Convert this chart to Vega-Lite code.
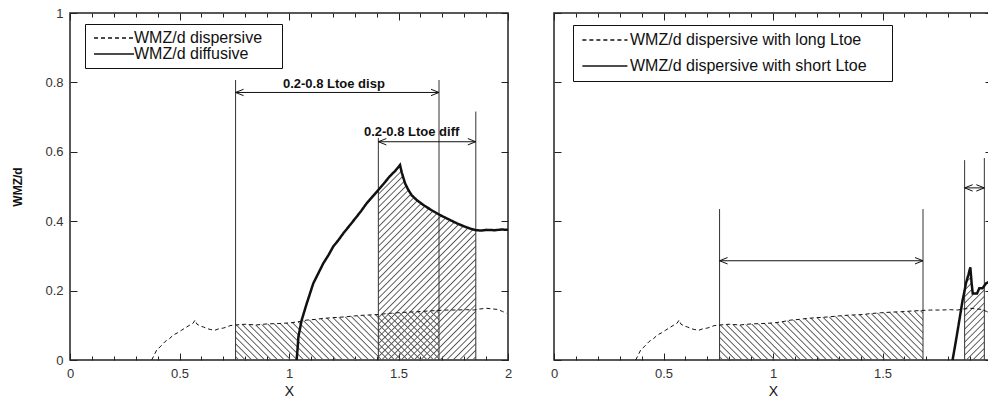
{
"$schema":"https://vega.github.io/schema/vega-lite/v6.json",
"background":"white",
"padding":{"left":11,"top":6,"right":0,"bottom":0},
"datasets":{
"disp":[{"x":0.373,"y":0},{"x":0.396,"y":0.029},{"x":0.415,"y":0.04},{"x":0.434,"y":0.053},{"x":0.455,"y":0.062},{"x":0.472,"y":0.072},{"x":0.49,"y":0.078},{"x":0.51,"y":0.086},{"x":0.53,"y":0.094},{"x":0.548,"y":0.101},{"x":0.562,"y":0.106},{"x":0.571,"y":0.115},{"x":0.58,"y":0.103},{"x":0.595,"y":0.098},{"x":0.61,"y":0.095},{"x":0.624,"y":0.091},{"x":0.64,"y":0.088},{"x":0.662,"y":0.086},{"x":0.68,"y":0.09},{"x":0.7,"y":0.092},{"x":0.715,"y":0.095},{"x":0.731,"y":0.099},{"x":0.756,"y":0.101},{"x":0.8,"y":0.103},{"x":0.85,"y":0.101},{"x":0.9,"y":0.104},{"x":0.95,"y":0.105},{"x":1.005,"y":0.107},{"x":1.04,"y":0.11},{"x":1.081,"y":0.115},{"x":1.12,"y":0.117},{"x":1.157,"y":0.12},{"x":1.2,"y":0.122},{"x":1.25,"y":0.124},{"x":1.3,"y":0.127},{"x":1.339,"y":0.129},{"x":1.408,"y":0.131},{"x":1.45,"y":0.134},{"x":1.492,"y":0.136},{"x":1.54,"y":0.138},{"x":1.583,"y":0.139},{"x":1.63,"y":0.141},{"x":1.685,"y":0.143},{"x":1.72,"y":0.144},{"x":1.766,"y":0.144},{"x":1.81,"y":0.145},{"x":1.842,"y":0.144},{"x":1.87,"y":0.147},{"x":1.903,"y":0.149},{"x":1.93,"y":0.147},{"x":1.95,"y":0.146},{"x":1.975,"y":0.14},{"x":1.994,"y":0.134}],
"diff":[{"x":1.035,"y":0},{"x":1.04,"y":0.04},{"x":1.043,"y":0.067},{"x":1.05,"y":0.09},{"x":1.058,"y":0.115},{"x":1.07,"y":0.14},{"x":1.081,"y":0.163},{"x":1.095,"y":0.19},{"x":1.111,"y":0.221},{"x":1.13,"y":0.245},{"x":1.157,"y":0.279},{"x":1.18,"y":0.302},{"x":1.202,"y":0.327},{"x":1.225,"y":0.345},{"x":1.248,"y":0.365},{"x":1.28,"y":0.39},{"x":1.309,"y":0.413},{"x":1.33,"y":0.43},{"x":1.355,"y":0.452},{"x":1.38,"y":0.47},{"x":1.408,"y":0.49},{"x":1.435,"y":0.51},{"x":1.461,"y":0.53},{"x":1.485,"y":0.545},{"x":1.507,"y":0.562},{"x":1.515,"y":0.54},{"x":1.53,"y":0.509},{"x":1.545,"y":0.49},{"x":1.56,"y":0.475},{"x":1.585,"y":0.46},{"x":1.613,"y":0.447},{"x":1.65,"y":0.432},{"x":1.689,"y":0.418},{"x":1.73,"y":0.405},{"x":1.766,"y":0.394},{"x":1.8,"y":0.385},{"x":1.826,"y":0.379},{"x":1.853,"y":0.374},{"x":1.88,"y":0.373},{"x":1.903,"y":0.375},{"x":1.94,"y":0.374},{"x":1.97,"y":0.376},{"x":2.0,"y":0.375}],
"short":[{"x":1.82,"y":0},{"x":1.836,"y":0.058},{"x":1.851,"y":0.115},{"x":1.866,"y":0.173},{"x":1.875,"y":0.2},{"x":1.881,"y":0.221},{"x":1.892,"y":0.245},{"x":1.901,"y":0.267},{"x":1.907,"y":0.221},{"x":1.912,"y":0.192},{"x":1.932,"y":0.192},{"x":1.942,"y":0.207},{"x":1.957,"y":0.207},{"x":1.965,"y":0.214},{"x":1.973,"y":0.221},{"x":1.988,"y":0.226},{"x":2.0,"y":0.232}]
},
"spacing":35,
"resolve":{"scale":{"strokeDash":"independent"},"legend":{"strokeDash":"independent"}},
"hconcat":[
{
"width":438,"height":347,
"resolve":{"axis":{"x":"independent","y":"independent"}},
"layer":[
{"data":{"name":"disp"},"transform":[{"filter":{"field":"x","range":[0.756,1.685]}}],
"mark":{"type":"area","fill":{"gradient":"linear","x1":0,"y1":1,"x2":1.206,"y2":0.706,"stops":[
{"offset":0.0075,"color":"#5550"},{"offset":0.0125,"color":"#555"},{"offset":0.0175,"color":"#5550"},
{"offset":0.0325,"color":"#5550"},{"offset":0.0375,"color":"#555"},{"offset":0.0425,"color":"#5550"},
{"offset":0.0575,"color":"#5550"},{"offset":0.0625,"color":"#555"},{"offset":0.0675,"color":"#5550"},
{"offset":0.0825,"color":"#5550"},{"offset":0.0875,"color":"#555"},{"offset":0.0925,"color":"#5550"},
{"offset":0.1075,"color":"#5550"},{"offset":0.1125,"color":"#555"},{"offset":0.1175,"color":"#5550"},
{"offset":0.1325,"color":"#5550"},{"offset":0.1375,"color":"#555"},{"offset":0.1425,"color":"#5550"},
{"offset":0.1575,"color":"#5550"},{"offset":0.1625,"color":"#555"},{"offset":0.1675,"color":"#5550"},
{"offset":0.1825,"color":"#5550"},{"offset":0.1875,"color":"#555"},{"offset":0.1925,"color":"#5550"},
{"offset":0.2075,"color":"#5550"},{"offset":0.2125,"color":"#555"},{"offset":0.2175,"color":"#5550"},
{"offset":0.2325,"color":"#5550"},{"offset":0.2375,"color":"#555"},{"offset":0.2425,"color":"#5550"},
{"offset":0.2575,"color":"#5550"},{"offset":0.2625,"color":"#555"},{"offset":0.2675,"color":"#5550"},
{"offset":0.2825,"color":"#5550"},{"offset":0.2875,"color":"#555"},{"offset":0.2925,"color":"#5550"},
{"offset":0.3075,"color":"#5550"},{"offset":0.3125,"color":"#555"},{"offset":0.3175,"color":"#5550"},
{"offset":0.3325,"color":"#5550"},{"offset":0.3375,"color":"#555"},{"offset":0.3425,"color":"#5550"},
{"offset":0.3575,"color":"#5550"},{"offset":0.3625,"color":"#555"},{"offset":0.3675,"color":"#5550"},
{"offset":0.3825,"color":"#5550"},{"offset":0.3875,"color":"#555"},{"offset":0.3925,"color":"#5550"},
{"offset":0.4075,"color":"#5550"},{"offset":0.4125,"color":"#555"},{"offset":0.4175,"color":"#5550"},
{"offset":0.4325,"color":"#5550"},{"offset":0.4375,"color":"#555"},{"offset":0.4425,"color":"#5550"},
{"offset":0.4575,"color":"#5550"},{"offset":0.4625,"color":"#555"},{"offset":0.4675,"color":"#5550"},
{"offset":0.4825,"color":"#5550"},{"offset":0.4875,"color":"#555"},{"offset":0.4925,"color":"#5550"},
{"offset":0.5075,"color":"#5550"},{"offset":0.5125,"color":"#555"},{"offset":0.5175,"color":"#5550"},
{"offset":0.5325,"color":"#5550"},{"offset":0.5375,"color":"#555"},{"offset":0.5425,"color":"#5550"},
{"offset":0.5575,"color":"#5550"},{"offset":0.5625,"color":"#555"},{"offset":0.5675,"color":"#5550"},
{"offset":0.5825,"color":"#5550"},{"offset":0.5875,"color":"#555"},{"offset":0.5925,"color":"#5550"},
{"offset":0.6075,"color":"#5550"},{"offset":0.6125,"color":"#555"},{"offset":0.6175,"color":"#5550"},
{"offset":0.6325,"color":"#5550"},{"offset":0.6375,"color":"#555"},{"offset":0.6425,"color":"#5550"},
{"offset":0.6575,"color":"#5550"},{"offset":0.6625,"color":"#555"},{"offset":0.6675,"color":"#5550"},
{"offset":0.6825,"color":"#5550"},{"offset":0.6875,"color":"#555"},{"offset":0.6925,"color":"#5550"},
{"offset":0.7075,"color":"#5550"},{"offset":0.7125,"color":"#555"},{"offset":0.7175,"color":"#5550"},
{"offset":0.7325,"color":"#5550"},{"offset":0.7375,"color":"#555"},{"offset":0.7425,"color":"#5550"},
{"offset":0.7575,"color":"#5550"},{"offset":0.7625,"color":"#555"},{"offset":0.7675,"color":"#5550"},
{"offset":0.7825,"color":"#5550"},{"offset":0.7875,"color":"#555"},{"offset":0.7925,"color":"#5550"},
{"offset":0.8075,"color":"#5550"},{"offset":0.8125,"color":"#555"},{"offset":0.8175,"color":"#5550"},
{"offset":0.8325,"color":"#5550"},{"offset":0.8375,"color":"#555"},{"offset":0.8425,"color":"#5550"},
{"offset":0.8575,"color":"#5550"},{"offset":0.8625,"color":"#555"},{"offset":0.8675,"color":"#5550"},
{"offset":0.8825,"color":"#5550"},{"offset":0.8875,"color":"#555"},{"offset":0.8925,"color":"#5550"},
{"offset":0.9075,"color":"#5550"},{"offset":0.9125,"color":"#555"},{"offset":0.9175,"color":"#5550"},
{"offset":0.9325,"color":"#5550"},{"offset":0.9375,"color":"#555"},{"offset":0.9425,"color":"#5550"},
{"offset":0.9575,"color":"#5550"},{"offset":0.9625,"color":"#555"},{"offset":0.9675,"color":"#5550"},
{"offset":0.9825,"color":"#5550"},{"offset":0.9875,"color":"#555"},{"offset":0.9925,"color":"#5550"}]}},
"encoding":{
"x":{"field":"x","type":"quantitative","scale":{"domain":[0,2],"nice":false,"zero":false},"axis":{"orient":"bottom","values":[0,0.1,0.2,0.3,0.4,0.5,0.6,0.7,0.8,0.9,1,1.1,1.2,1.3,1.4,1.5,1.6,1.7,1.8,1.9,2],"labelExpr":"abs(datum.value*2-round(datum.value*2))<0.001 ? ''+datum.value : ''","tickSize":{"condition":{"test":"abs(datum.value*2-round(datum.value*2))<0.001","value":-7},"value":-4},"labelPadding":14,"title":"X","titleFontSize":14,"titleFontWeight":"normal","titlePadding":1}},
"y":{"field":"y","type":"quantitative","scale":{"domain":[0,1],"nice":false},"axis":{"orient":"left","values":[0,0.2,0.4,0.6,0.8,1],"labelExpr":"''+datum.value","tickSize":-7,"labelPadding":14,"title":"WMZ/d","titleFontSize":12,"titleFontWeight":"bold","titlePadding":20}}}},
{"data":{"name":"diff"},"transform":[{"filter":{"field":"x","range":[1.408,1.853]}}],
"mark":{"type":"area","fill":{"gradient":"linear","x1":0,"y1":0,"x2":0.667,"y2":1.333,"stops":[
{"offset":0.006,"color":"#5550"},{"offset":0.01,"color":"#555"},{"offset":0.014,"color":"#5550"},
{"offset":0.026,"color":"#5550"},{"offset":0.03,"color":"#555"},{"offset":0.034,"color":"#5550"},
{"offset":0.046,"color":"#5550"},{"offset":0.05,"color":"#555"},{"offset":0.054,"color":"#5550"},
{"offset":0.066,"color":"#5550"},{"offset":0.07,"color":"#555"},{"offset":0.074,"color":"#5550"},
{"offset":0.086,"color":"#5550"},{"offset":0.09,"color":"#555"},{"offset":0.094,"color":"#5550"},
{"offset":0.106,"color":"#5550"},{"offset":0.11,"color":"#555"},{"offset":0.114,"color":"#5550"},
{"offset":0.126,"color":"#5550"},{"offset":0.13,"color":"#555"},{"offset":0.134,"color":"#5550"},
{"offset":0.146,"color":"#5550"},{"offset":0.15,"color":"#555"},{"offset":0.154,"color":"#5550"},
{"offset":0.166,"color":"#5550"},{"offset":0.17,"color":"#555"},{"offset":0.174,"color":"#5550"},
{"offset":0.186,"color":"#5550"},{"offset":0.19,"color":"#555"},{"offset":0.194,"color":"#5550"},
{"offset":0.206,"color":"#5550"},{"offset":0.21,"color":"#555"},{"offset":0.214,"color":"#5550"},
{"offset":0.226,"color":"#5550"},{"offset":0.23,"color":"#555"},{"offset":0.234,"color":"#5550"},
{"offset":0.246,"color":"#5550"},{"offset":0.25,"color":"#555"},{"offset":0.254,"color":"#5550"},
{"offset":0.266,"color":"#5550"},{"offset":0.27,"color":"#555"},{"offset":0.274,"color":"#5550"},
{"offset":0.286,"color":"#5550"},{"offset":0.29,"color":"#555"},{"offset":0.294,"color":"#5550"},
{"offset":0.306,"color":"#5550"},{"offset":0.31,"color":"#555"},{"offset":0.314,"color":"#5550"},
{"offset":0.326,"color":"#5550"},{"offset":0.33,"color":"#555"},{"offset":0.334,"color":"#5550"},
{"offset":0.346,"color":"#5550"},{"offset":0.35,"color":"#555"},{"offset":0.354,"color":"#5550"},
{"offset":0.366,"color":"#5550"},{"offset":0.37,"color":"#555"},{"offset":0.374,"color":"#5550"},
{"offset":0.386,"color":"#5550"},{"offset":0.39,"color":"#555"},{"offset":0.394,"color":"#5550"},
{"offset":0.406,"color":"#5550"},{"offset":0.41,"color":"#555"},{"offset":0.414,"color":"#5550"},
{"offset":0.426,"color":"#5550"},{"offset":0.43,"color":"#555"},{"offset":0.434,"color":"#5550"},
{"offset":0.446,"color":"#5550"},{"offset":0.45,"color":"#555"},{"offset":0.454,"color":"#5550"},
{"offset":0.466,"color":"#5550"},{"offset":0.47,"color":"#555"},{"offset":0.474,"color":"#5550"},
{"offset":0.486,"color":"#5550"},{"offset":0.49,"color":"#555"},{"offset":0.494,"color":"#5550"},
{"offset":0.506,"color":"#5550"},{"offset":0.51,"color":"#555"},{"offset":0.514,"color":"#5550"},
{"offset":0.526,"color":"#5550"},{"offset":0.53,"color":"#555"},{"offset":0.534,"color":"#5550"},
{"offset":0.546,"color":"#5550"},{"offset":0.55,"color":"#555"},{"offset":0.554,"color":"#5550"},
{"offset":0.566,"color":"#5550"},{"offset":0.57,"color":"#555"},{"offset":0.574,"color":"#5550"},
{"offset":0.586,"color":"#5550"},{"offset":0.59,"color":"#555"},{"offset":0.594,"color":"#5550"},
{"offset":0.606,"color":"#5550"},{"offset":0.61,"color":"#555"},{"offset":0.614,"color":"#5550"},
{"offset":0.626,"color":"#5550"},{"offset":0.63,"color":"#555"},{"offset":0.634,"color":"#5550"},
{"offset":0.646,"color":"#5550"},{"offset":0.65,"color":"#555"},{"offset":0.654,"color":"#5550"},
{"offset":0.666,"color":"#5550"},{"offset":0.67,"color":"#555"},{"offset":0.674,"color":"#5550"},
{"offset":0.686,"color":"#5550"},{"offset":0.69,"color":"#555"},{"offset":0.694,"color":"#5550"},
{"offset":0.706,"color":"#5550"},{"offset":0.71,"color":"#555"},{"offset":0.714,"color":"#5550"},
{"offset":0.726,"color":"#5550"},{"offset":0.73,"color":"#555"},{"offset":0.734,"color":"#5550"},
{"offset":0.746,"color":"#5550"},{"offset":0.75,"color":"#555"},{"offset":0.754,"color":"#5550"},
{"offset":0.766,"color":"#5550"},{"offset":0.77,"color":"#555"},{"offset":0.774,"color":"#5550"},
{"offset":0.786,"color":"#5550"},{"offset":0.79,"color":"#555"},{"offset":0.794,"color":"#5550"},
{"offset":0.806,"color":"#5550"},{"offset":0.81,"color":"#555"},{"offset":0.814,"color":"#5550"},
{"offset":0.826,"color":"#5550"},{"offset":0.83,"color":"#555"},{"offset":0.834,"color":"#5550"},
{"offset":0.846,"color":"#5550"},{"offset":0.85,"color":"#555"},{"offset":0.854,"color":"#5550"},
{"offset":0.866,"color":"#5550"},{"offset":0.87,"color":"#555"},{"offset":0.874,"color":"#5550"},
{"offset":0.886,"color":"#5550"},{"offset":0.89,"color":"#555"},{"offset":0.894,"color":"#5550"},
{"offset":0.906,"color":"#5550"},{"offset":0.91,"color":"#555"},{"offset":0.914,"color":"#5550"}]}},
"encoding":{
"x":{"field":"x","type":"quantitative","scale":{"domain":[0,2],"nice":false,"zero":false},"axis":{"orient":"top","values":[0,0.1,0.2,0.3,0.4,0.5,0.6,0.7,0.8,0.9,1,1.1,1.2,1.3,1.4,1.5,1.6,1.7,1.8,1.9,2],"labels":false,"tickSize":{"condition":{"test":"abs(datum.value*2-round(datum.value*2))<0.001","value":-7},"value":-4},"title":null}},
"y":{"field":"y","type":"quantitative","scale":{"domain":[0,1],"nice":false},"axis":{"orient":"right","values":[0,0.2,0.4,0.6,0.8,1],"labels":false,"tickSize":-7,"title":null}}}},
{"data":{"values":[{"x":0.756,"top":0.807},{"x":1.685,"top":0.807},{"x":1.408,"top":0.64},{"x":1.853,"top":0.716}]},
"mark":{"type":"rule","color":"#333","strokeWidth":1},
"encoding":{"x":{"field":"x","type":"quantitative","axis":null},"y":{"field":"top","type":"quantitative","axis":null},"y2":{"datum":0}}},
{"data":{"values":[{"x0":0.756,"x1":1.685,"ay":0.771},{"x0":1.408,"x1":1.853,"ay":0.629}]},
"mark":{"type":"rule","color":"#111","strokeWidth":1},"encoding":{"x":{"field":"x0","type":"quantitative","axis":null},"x2":{"field":"x1"},"y":{"field":"ay","type":"quantitative","axis":null}}},
{"data":{"values":[{"x0":0.756,"x1":1.685,"ay":0.771},{"x0":1.408,"x1":1.853,"ay":0.629}]},
"mark":{"type":"point","shape":"M0,0L1,-0.4M0,0L1,0.4","size":256,"filled":false,"stroke":"#111","strokeWidth":1,"opacity":1},"encoding":{"x":{"field":"x0","type":"quantitative","axis":null},"y":{"field":"ay","type":"quantitative","axis":null}}},
{"data":{"values":[{"x0":0.756,"x1":1.685,"ay":0.771},{"x0":1.408,"x1":1.853,"ay":0.629}]},
"mark":{"type":"point","shape":"M0,0L-1,-0.4M0,0L-1,0.4","size":256,"filled":false,"stroke":"#111","strokeWidth":1,"opacity":1},"encoding":{"x":{"field":"x1","type":"quantitative","axis":null},"y":{"field":"ay","type":"quantitative","axis":null}}},
{"data":{"values":[{"lx":1.205,"ly":0.795,"label":"0.2-0.8 Ltoe disp"},{"lx":1.56,"ly":0.658,"label":"0.2-0.8 Ltoe diff"}]},
"mark":{"type":"text","font":"Liberation Sans","fontWeight":"bold","fontSize":13,"color":"#111","baseline":"middle"},
"encoding":{"x":{"field":"lx","type":"quantitative","axis":null},"y":{"field":"ly","type":"quantitative","axis":null},"text":{"field":"label"}}},
{"data":{"name":"disp"},"mark":{"type":"line","color":"#111","strokeWidth":1},
"encoding":{"x":{"field":"x","type":"quantitative","axis":null},"y":{"field":"y","type":"quantitative","axis":null},
"strokeDash":{"datum":"WMZ/d dispersive","type":"nominal","scale":{"domain":["WMZ/d dispersive","WMZ/d diffusive"],"range":[[4,3],[1,0]]},"legend":{"orient":"none","legendX":15,"legendY":11,"title":null,"padding":6,"rowPadding":0,"symbolSize":100,"labelOffset":27,"labelLimit":0,"labelExpr":"datum.label + '\u00a0\u00a0\u00a0\u200b'"}}}},
{"data":{"name":"diff"},"mark":{"type":"line","color":"#111","strokeWidth":2.5},
"encoding":{"x":{"field":"x","type":"quantitative","axis":null},"y":{"field":"y","type":"quantitative","axis":null},
"strokeDash":{"datum":"WMZ/d diffusive","type":"nominal"}}}
]
},
{
"width":438,"height":347,
"resolve":{"axis":{"x":"independent","y":"independent"}},
"layer":[
{"data":{"name":"disp"},"transform":[{"filter":{"field":"x","range":[0.756,1.685]}}],
"mark":{"type":"area","fill":{"gradient":"linear","x1":0,"y1":1,"x2":1.206,"y2":0.706,"stops":[
{"offset":0.0075,"color":"#5550"},{"offset":0.0125,"color":"#555"},{"offset":0.0175,"color":"#5550"},
{"offset":0.0325,"color":"#5550"},{"offset":0.0375,"color":"#555"},{"offset":0.0425,"color":"#5550"},
{"offset":0.0575,"color":"#5550"},{"offset":0.0625,"color":"#555"},{"offset":0.0675,"color":"#5550"},
{"offset":0.0825,"color":"#5550"},{"offset":0.0875,"color":"#555"},{"offset":0.0925,"color":"#5550"},
{"offset":0.1075,"color":"#5550"},{"offset":0.1125,"color":"#555"},{"offset":0.1175,"color":"#5550"},
{"offset":0.1325,"color":"#5550"},{"offset":0.1375,"color":"#555"},{"offset":0.1425,"color":"#5550"},
{"offset":0.1575,"color":"#5550"},{"offset":0.1625,"color":"#555"},{"offset":0.1675,"color":"#5550"},
{"offset":0.1825,"color":"#5550"},{"offset":0.1875,"color":"#555"},{"offset":0.1925,"color":"#5550"},
{"offset":0.2075,"color":"#5550"},{"offset":0.2125,"color":"#555"},{"offset":0.2175,"color":"#5550"},
{"offset":0.2325,"color":"#5550"},{"offset":0.2375,"color":"#555"},{"offset":0.2425,"color":"#5550"},
{"offset":0.2575,"color":"#5550"},{"offset":0.2625,"color":"#555"},{"offset":0.2675,"color":"#5550"},
{"offset":0.2825,"color":"#5550"},{"offset":0.2875,"color":"#555"},{"offset":0.2925,"color":"#5550"},
{"offset":0.3075,"color":"#5550"},{"offset":0.3125,"color":"#555"},{"offset":0.3175,"color":"#5550"},
{"offset":0.3325,"color":"#5550"},{"offset":0.3375,"color":"#555"},{"offset":0.3425,"color":"#5550"},
{"offset":0.3575,"color":"#5550"},{"offset":0.3625,"color":"#555"},{"offset":0.3675,"color":"#5550"},
{"offset":0.3825,"color":"#5550"},{"offset":0.3875,"color":"#555"},{"offset":0.3925,"color":"#5550"},
{"offset":0.4075,"color":"#5550"},{"offset":0.4125,"color":"#555"},{"offset":0.4175,"color":"#5550"},
{"offset":0.4325,"color":"#5550"},{"offset":0.4375,"color":"#555"},{"offset":0.4425,"color":"#5550"},
{"offset":0.4575,"color":"#5550"},{"offset":0.4625,"color":"#555"},{"offset":0.4675,"color":"#5550"},
{"offset":0.4825,"color":"#5550"},{"offset":0.4875,"color":"#555"},{"offset":0.4925,"color":"#5550"},
{"offset":0.5075,"color":"#5550"},{"offset":0.5125,"color":"#555"},{"offset":0.5175,"color":"#5550"},
{"offset":0.5325,"color":"#5550"},{"offset":0.5375,"color":"#555"},{"offset":0.5425,"color":"#5550"},
{"offset":0.5575,"color":"#5550"},{"offset":0.5625,"color":"#555"},{"offset":0.5675,"color":"#5550"},
{"offset":0.5825,"color":"#5550"},{"offset":0.5875,"color":"#555"},{"offset":0.5925,"color":"#5550"},
{"offset":0.6075,"color":"#5550"},{"offset":0.6125,"color":"#555"},{"offset":0.6175,"color":"#5550"},
{"offset":0.6325,"color":"#5550"},{"offset":0.6375,"color":"#555"},{"offset":0.6425,"color":"#5550"},
{"offset":0.6575,"color":"#5550"},{"offset":0.6625,"color":"#555"},{"offset":0.6675,"color":"#5550"},
{"offset":0.6825,"color":"#5550"},{"offset":0.6875,"color":"#555"},{"offset":0.6925,"color":"#5550"},
{"offset":0.7075,"color":"#5550"},{"offset":0.7125,"color":"#555"},{"offset":0.7175,"color":"#5550"},
{"offset":0.7325,"color":"#5550"},{"offset":0.7375,"color":"#555"},{"offset":0.7425,"color":"#5550"},
{"offset":0.7575,"color":"#5550"},{"offset":0.7625,"color":"#555"},{"offset":0.7675,"color":"#5550"},
{"offset":0.7825,"color":"#5550"},{"offset":0.7875,"color":"#555"},{"offset":0.7925,"color":"#5550"},
{"offset":0.8075,"color":"#5550"},{"offset":0.8125,"color":"#555"},{"offset":0.8175,"color":"#5550"},
{"offset":0.8325,"color":"#5550"},{"offset":0.8375,"color":"#555"},{"offset":0.8425,"color":"#5550"},
{"offset":0.8575,"color":"#5550"},{"offset":0.8625,"color":"#555"},{"offset":0.8675,"color":"#5550"},
{"offset":0.8825,"color":"#5550"},{"offset":0.8875,"color":"#555"},{"offset":0.8925,"color":"#5550"},
{"offset":0.9075,"color":"#5550"},{"offset":0.9125,"color":"#555"},{"offset":0.9175,"color":"#5550"},
{"offset":0.9325,"color":"#5550"},{"offset":0.9375,"color":"#555"},{"offset":0.9425,"color":"#5550"},
{"offset":0.9575,"color":"#5550"},{"offset":0.9625,"color":"#555"},{"offset":0.9675,"color":"#5550"},
{"offset":0.9825,"color":"#5550"},{"offset":0.9875,"color":"#555"},{"offset":0.9925,"color":"#5550"}]}},
"encoding":{
"x":{"field":"x","type":"quantitative","scale":{"domain":[0,2],"nice":false,"zero":false},"axis":{"orient":"bottom","values":[0,0.1,0.2,0.3,0.4,0.5,0.6,0.7,0.8,0.9,1,1.1,1.2,1.3,1.4,1.5,1.6,1.7,1.8,1.9,2],"labelExpr":"abs(datum.value*2-round(datum.value*2))<0.001 ? ''+datum.value : ''","tickSize":{"condition":{"test":"abs(datum.value*2-round(datum.value*2))<0.001","value":-7},"value":-4},"labelPadding":14,"title":"X","titleFontSize":14,"titleFontWeight":"normal","titlePadding":1}},
"y":{"field":"y","type":"quantitative","scale":{"domain":[0,1],"nice":false},"axis":{"orient":"left","values":[0,0.2,0.4,0.6,0.8,1],"labels":false,"tickSize":-7,"title":null}}}},
{"data":{"name":"short"},"transform":[{"filter":{"field":"x","range":[1.875,1.965]}}],
"mark":{"type":"area","fill":{"gradient":"linear","x1":0,"y1":0,"x2":0.286,"y2":1.343,"stops":[
{"offset":0.015,"color":"#5550"},{"offset":0.025,"color":"#555"},{"offset":0.035,"color":"#5550"},
{"offset":0.065,"color":"#5550"},{"offset":0.075,"color":"#555"},{"offset":0.085,"color":"#5550"},
{"offset":0.115,"color":"#5550"},{"offset":0.125,"color":"#555"},{"offset":0.135,"color":"#5550"},
{"offset":0.165,"color":"#5550"},{"offset":0.175,"color":"#555"},{"offset":0.185,"color":"#5550"},
{"offset":0.215,"color":"#5550"},{"offset":0.225,"color":"#555"},{"offset":0.235,"color":"#5550"},
{"offset":0.265,"color":"#5550"},{"offset":0.275,"color":"#555"},{"offset":0.285,"color":"#5550"},
{"offset":0.315,"color":"#5550"},{"offset":0.325,"color":"#555"},{"offset":0.335,"color":"#5550"},
{"offset":0.365,"color":"#5550"},{"offset":0.375,"color":"#555"},{"offset":0.385,"color":"#5550"},
{"offset":0.415,"color":"#5550"},{"offset":0.425,"color":"#555"},{"offset":0.435,"color":"#5550"},
{"offset":0.465,"color":"#5550"},{"offset":0.475,"color":"#555"},{"offset":0.485,"color":"#5550"},
{"offset":0.515,"color":"#5550"},{"offset":0.525,"color":"#555"},{"offset":0.535,"color":"#5550"},
{"offset":0.565,"color":"#5550"},{"offset":0.575,"color":"#555"},{"offset":0.585,"color":"#5550"},
{"offset":0.615,"color":"#5550"},{"offset":0.625,"color":"#555"},{"offset":0.635,"color":"#5550"},
{"offset":0.665,"color":"#5550"},{"offset":0.675,"color":"#555"},{"offset":0.685,"color":"#5550"},
{"offset":0.715,"color":"#5550"},{"offset":0.725,"color":"#555"},{"offset":0.735,"color":"#5550"},
{"offset":0.765,"color":"#5550"},{"offset":0.775,"color":"#555"},{"offset":0.785,"color":"#5550"},
{"offset":0.815,"color":"#5550"},{"offset":0.825,"color":"#555"},{"offset":0.835,"color":"#5550"},
{"offset":0.865,"color":"#5550"},{"offset":0.875,"color":"#555"},{"offset":0.885,"color":"#5550"}]}},
"encoding":{
"x":{"field":"x","type":"quantitative","scale":{"domain":[0,2],"nice":false,"zero":false},"axis":{"orient":"top","values":[0,0.1,0.2,0.3,0.4,0.5,0.6,0.7,0.8,0.9,1,1.1,1.2,1.3,1.4,1.5,1.6,1.7,1.8,1.9,2],"labels":false,"tickSize":{"condition":{"test":"abs(datum.value*2-round(datum.value*2))<0.001","value":-7},"value":-4},"title":null}},
"y":{"field":"y","type":"quantitative","scale":{"domain":[0,1],"nice":false},"axis":{"orient":"right","values":[0,0.2,0.4,0.6,0.8,1],"labels":false,"tickSize":-7,"title":null}}}},
{"data":{"values":[{"x":0.756,"top":0.435},{"x":1.685,"top":0.435},{"x":1.875,"top":0.576},{"x":1.965,"top":0.582}]},
"mark":{"type":"rule","color":"#333","strokeWidth":1},
"encoding":{"x":{"field":"x","type":"quantitative","axis":null},"y":{"field":"top","type":"quantitative","axis":null},"y2":{"datum":0}}},
{"data":{"values":[{"x0":0.756,"x1":1.685,"ay":0.286},{"x0":1.875,"x1":1.965,"ay":0.496}]},
"mark":{"type":"rule","color":"#111","strokeWidth":1},"encoding":{"x":{"field":"x0","type":"quantitative","axis":null},"x2":{"field":"x1"},"y":{"field":"ay","type":"quantitative","axis":null}}},
{"data":{"values":[{"x0":0.756,"x1":1.685,"ay":0.286},{"x0":1.875,"x1":1.965,"ay":0.496}]},
"mark":{"type":"point","shape":"M0,0L1,-0.4M0,0L1,0.4","size":256,"filled":false,"stroke":"#111","strokeWidth":1,"opacity":1},"encoding":{"x":{"field":"x0","type":"quantitative","axis":null},"y":{"field":"ay","type":"quantitative","axis":null}}},
{"data":{"values":[{"x0":0.756,"x1":1.685,"ay":0.286},{"x0":1.875,"x1":1.965,"ay":0.496}]},
"mark":{"type":"point","shape":"M0,0L-1,-0.4M0,0L-1,0.4","size":256,"filled":false,"stroke":"#111","strokeWidth":1,"opacity":1},"encoding":{"x":{"field":"x1","type":"quantitative","axis":null},"y":{"field":"ay","type":"quantitative","axis":null}}},
{"data":{"name":"disp"},"mark":{"type":"line","color":"#111","strokeWidth":1},
"encoding":{"x":{"field":"x","type":"quantitative","axis":null},"y":{"field":"y","type":"quantitative","axis":null},
"strokeDash":{"datum":"WMZ/d dispersive with long Ltoe","type":"nominal","scale":{"domain":["WMZ/d dispersive with long Ltoe","WMZ/d dispersive with short Ltoe"],"range":[[4,3],[1,0]]},"legend":{"orient":"none","legendX":19,"legendY":12,"title":null,"padding":7,"rowPadding":10,"symbolSize":127,"labelOffset":34,"labelLimit":0,"labelExpr":"datum.label + '\u00a0\u00a0\u00a0\u00a0\u200b'"}}}},
{"data":{"name":"short"},"mark":{"type":"line","color":"#111","strokeWidth":2.5},
"encoding":{"x":{"field":"x","type":"quantitative","axis":null},"y":{"field":"y","type":"quantitative","axis":null},
"strokeDash":{"datum":"WMZ/d dispersive with short Ltoe","type":"nominal"}}}
]
}
],
"config":{
"font":"Liberation Sans",
"view":{"stroke":"#222","strokeWidth":1.5},
"axis":{"domain":false,"grid":false,"tickColor":"#222","tickWidth":1,"labelColor":"#333","labelFont":"Liberation Sans","labelFontSize":13,"labelFlush":false,"labelOverlap":false,"titleFont":"Liberation Sans","titleColor":"#111"},
"legend":{"fillColor":"white","strokeColor":"#111","strokeWidth":1,"labelFont":"Liberation Sans","labelFontSize":16,"labelColor":"#111","symbolType":"M-1,0H7","symbolStrokeColor":"#111","symbolStrokeWidth":1.5,"symbolFillColor":"transparent"}
}
}
